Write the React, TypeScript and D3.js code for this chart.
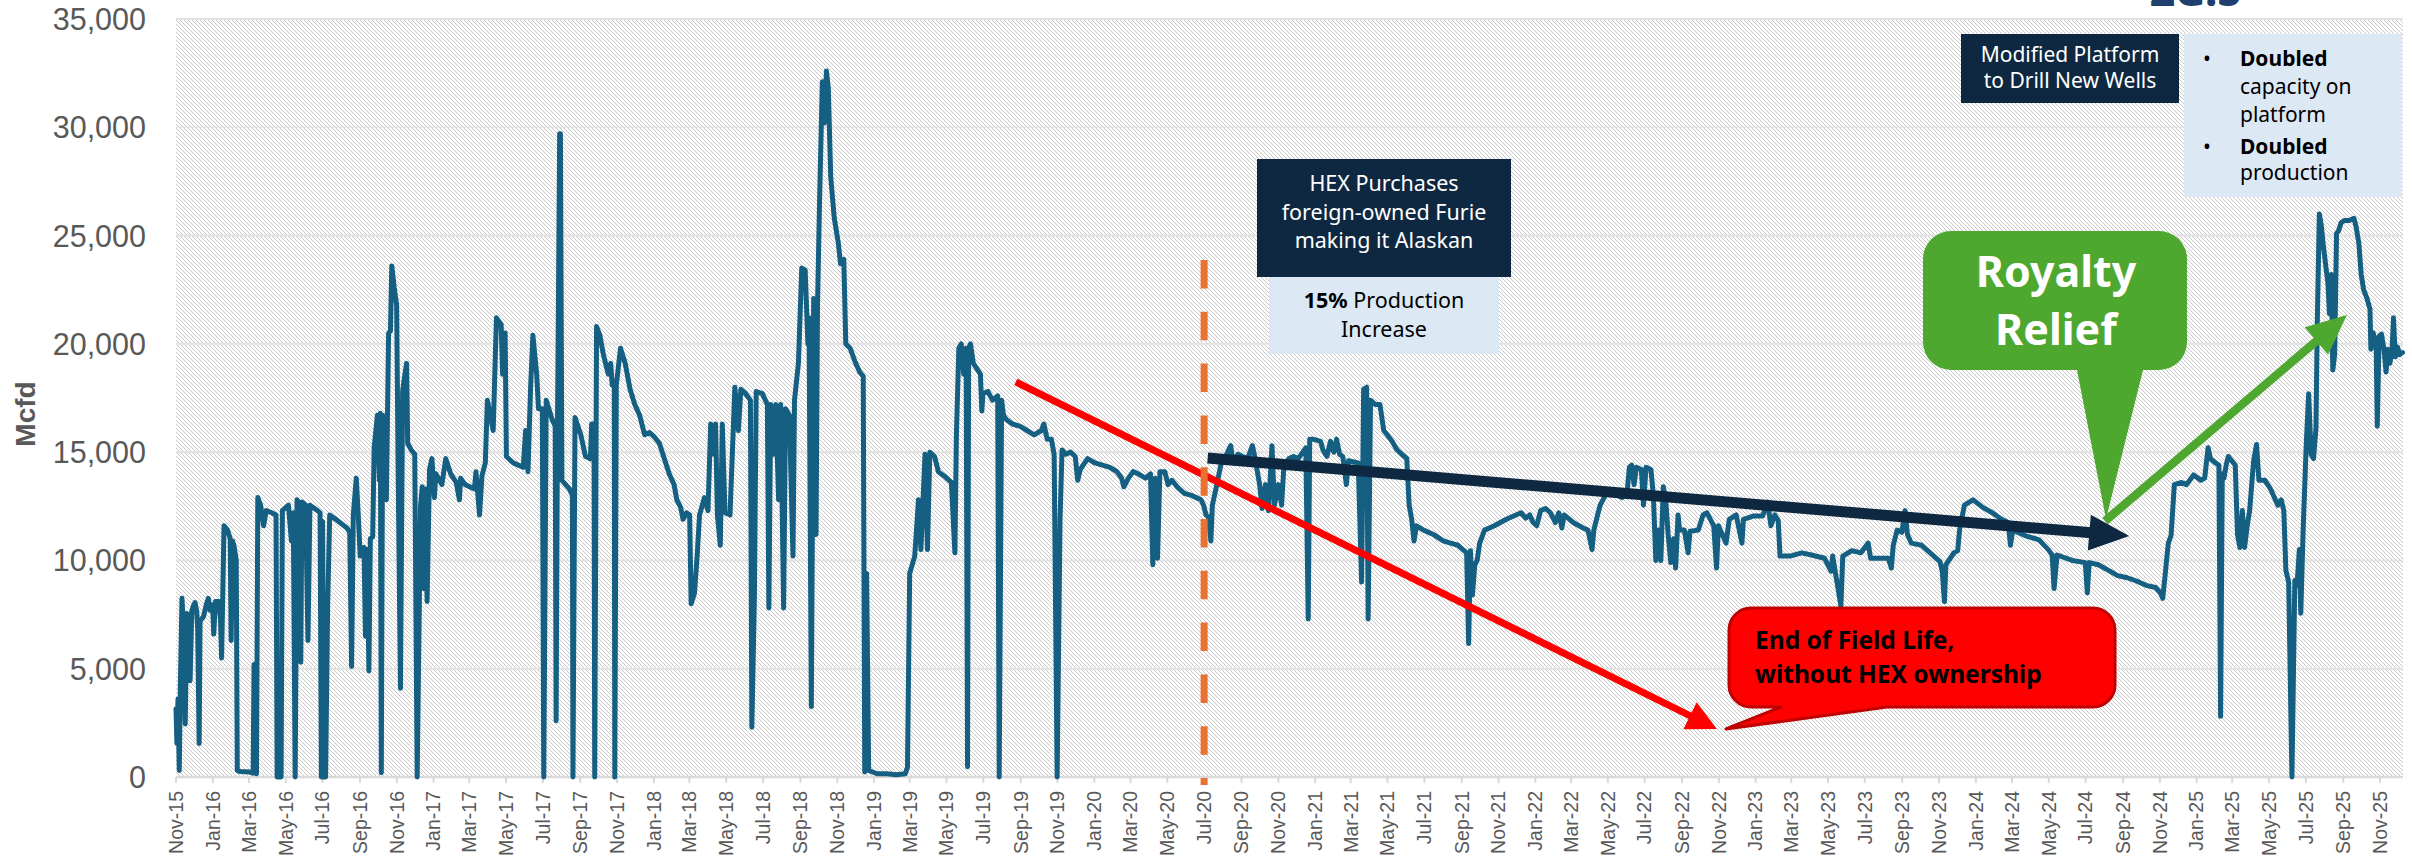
import React from "react";
import * as d3 from "d3";

// Daily gas production, Mcfd. Each pair: [months since 1 Nov 2015, Mcfd]
const prod2015_16: [number, number][] = [
  [0.0, 3150], [0.05, 1550], [0.11, 3600], [0.18, 300], [0.24, 4150], [0.33, 8250], [0.42, 6750], [0.51, 2450],
  [0.6, 7550], [0.69, 7350], [0.78, 4450], [0.87, 7650], [0.96, 7900], [1.05, 8050], [1.14, 7650], [1.19, 6900],
  [1.27, 1550], [1.32, 7200], [1.5, 7400], [1.65, 7950], [1.76, 8250], [1.86, 7700], [1.99, 7950], [2.05, 6600],
  [2.14, 8100], [2.32, 8100], [2.41, 7350], [2.47, 5500], [2.6, 11600], [2.79, 11400], [2.93, 11000], [2.98, 6300],
  [3.06, 10900], [3.16, 10600], [3.27, 10000], [3.33, 300], [3.49, 250], [4.04, 230], [4.22, 180], [4.27, 5200],
  [4.34, 300], [4.4, 150], [4.47, 12900], [4.62, 12550], [4.78, 11600], [4.92, 12300], [5.22, 12200], [5.46, 12100],
  [5.52, 0], [5.74, 0], [5.81, 12300], [6.14, 12550], [6.3, 10900], [6.4, 12200], [6.5, 0], [6.6, 12800],
  [6.75, 12600], [6.8, 5300], [6.86, 12700], [7.06, 12550], [7.19, 6300], [7.3, 12550], [7.72, 12300], [7.86, 12200],
  [7.93, 0], [8.0, 11800], [8.05, 0], [8.16, 0], [8.27, 8000], [8.38, 12100], [8.77, 11850], [9.3, 11500],
  [9.45, 11300], [9.55, 5100], [9.64, 12100], [9.8, 13800], [9.9, 12200], [10.01, 10200], [10.22, 10600], [10.3, 6500],
  [10.4, 10500], [10.49, 4900], [10.57, 11000], [10.7, 11100], [10.78, 15200], [10.96, 16700], [11.07, 13700], [11.12, 16800],
  [11.17, 200], [11.24, 16700], [11.34, 13200], [11.44, 12800], [11.56, 20500], [11.66, 20600], [11.73, 23600], [11.86, 22600],
  [11.99, 21800], [12.08, 13500], [12.2, 4100], [12.32, 17800], [12.41, 18400], [12.54, 19100], [12.6, 15400], [12.8, 15100],
  [12.99, 14900], [13.12, 0], [13.3, 12500], [13.39, 13400], [13.47, 8700], [13.57, 13300], [13.65, 8100], [13.78, 14200],
  [13.91, 14700],
];

const prod2017: [number, number][] = [
  [14.04, 12900], [14.12, 14000], [14.44, 13500], [14.65, 14700], [14.91, 14000], [15.23, 13600], [15.42, 12800], [15.49, 13800],
  [15.76, 13500], [16.28, 13300], [16.36, 14100], [16.55, 12100], [16.68, 13900], [16.86, 14500], [16.97, 17400], [17.29, 16000],
  [17.47, 21200], [17.73, 20900], [17.81, 18600], [17.95, 20500], [18.02, 14800], [18.39, 14500], [18.66, 14400], [18.92, 14300],
  [19.05, 16000], [19.18, 14100], [19.32, 17900], [19.45, 20400], [19.66, 18600], [19.76, 17000], [19.97, 17000], [20.05, 0],
  [20.18, 17400], [20.5, 16500], [20.66, 16200], [20.71, 2600], [20.78, 15800], [20.9, 29700], [20.94, 29700], [21.02, 13700],
  [21.42, 13300], [21.58, 13000], [21.61, 0], [21.72, 16600], [22.03, 15800], [22.29, 14800], [22.56, 14700], [22.63, 16300],
  [22.76, 16300], [22.8, 0], [22.9, 20800], [23.08, 20400], [23.27, 19500], [23.53, 18600], [23.66, 19100], [23.74, 18100],
  [23.85, 18200], [23.88, 0], [23.96, 18100], [24.19, 19800], [24.45, 19100], [24.72, 17900], [24.98, 17200], [25.24, 16700],
  [25.51, 15800], [25.77, 15900],
];

const prod2018: [number, number][] = [
  [26.03, 15700], [26.3, 15400], [26.56, 14700], [26.82, 14000], [27.09, 13500], [27.25, 12800], [27.48, 12450], [27.62, 11900],
  [27.83, 12200], [28.01, 12100], [28.09, 8000], [28.27, 8500], [28.41, 10200], [28.54, 12100], [28.8, 12900], [28.99, 12300],
  [29.14, 16300], [29.33, 14900], [29.41, 16300], [29.51, 12100], [29.67, 10700], [29.78, 16300], [29.93, 12200], [30.2, 12100],
  [30.46, 18000], [30.65, 16000], [30.78, 17900], [31.04, 17700], [31.3, 17400], [31.38, 2300], [31.52, 8250], [31.62, 17800],
  [31.96, 17700], [32.23, 17200], [32.31, 7800], [32.41, 17200], [32.57, 14900], [32.68, 17200], [32.83, 12800], [32.94, 17200],
  [33.1, 7800], [33.2, 17000], [33.41, 16700], [33.6, 10200], [33.68, 17400], [33.89, 19100], [34.07, 23500], [34.26, 23400],
  [34.41, 20000], [34.47, 21200], [34.6, 3250], [34.73, 22100], [34.86, 11200], [34.94, 21700], [35.05, 26500], [35.2, 32100],
  [35.31, 30200], [35.42, 32600], [35.52, 31800], [35.65, 27700], [35.84, 25800], [36.05, 24700], [36.18, 23700], [36.36, 23900],
  [36.47, 20000], [36.71, 19800], [36.97, 19200], [37.23, 18700], [37.42, 18500], [37.5, 230], [37.6, 9400], [37.71, 300],
];

const prod2019: [number, number][] = [
  [38.16, 150], [38.68, 150], [39.21, 100], [39.74, 150], [39.87, 450], [40.0, 9400], [40.27, 10200], [40.47, 12800],
  [40.6, 10500], [40.82, 14900], [40.95, 10500], [41.08, 15000], [41.34, 14800], [41.55, 14100], [41.87, 13900], [42.26, 13600],
  [42.45, 10350], [42.53, 15800], [42.66, 19800], [42.79, 20000], [42.92, 18600], [43.05, 19800], [43.13, 470], [43.19, 19800],
  [43.29, 20000], [43.45, 19100], [43.84, 18600], [43.92, 16900], [43.98, 17700], [44.24, 17800], [44.5, 17400], [44.77, 17600],
  [44.85, 0], [44.98, 17400], [45.08, 16700], [45.24, 16500], [45.56, 16300], [45.95, 16200], [46.35, 16000], [46.74, 15800],
  [47.14, 16000], [47.27, 16300], [47.45, 15600], [47.67, 15600], [47.82, 14900], [47.98, 0], [48.14, 11900], [48.25, 15100],
  [48.46, 14900], [48.72, 15000], [48.98, 14800], [49.11, 13700], [49.25, 14200], [49.64, 14700],
];

const prod2020: [number, number][] = [
  [50.04, 14500], [50.43, 14400], [50.83, 14300], [51.22, 14100], [51.49, 13800], [51.62, 13400], [51.88, 13800], [52.14, 14100],
  [52.41, 14000], [52.8, 13800], [53.07, 14000], [53.2, 9800], [53.33, 13800], [53.46, 10100], [53.59, 14100], [53.86, 14100],
  [54.04, 13500], [54.25, 13700], [54.52, 13400], [54.91, 13100], [55.31, 13000], [55.57, 12900], [55.83, 12800], [55.97, 12550],
  [56.1, 12100], [56.23, 12000], [56.36, 10900], [56.44, 12550], [56.68, 13500], [56.89, 14400], [57.15, 14800], [57.42, 15300],
  [57.55, 14500], [57.81, 14900], [58.07, 14800], [58.34, 14700], [58.6, 15300], [58.73, 14800], [59.0, 13500], [59.13, 12400],
  [59.31, 13500], [59.47, 12300], [59.66, 15300], [59.79, 12550], [60.0, 13500], [60.18, 12550], [60.31, 14400], [60.58, 14700],
  [60.84, 14800], [61.1, 14700], [61.5, 15200], [61.63, 7300], [61.71, 15600], [61.89, 15600],
];

const prod2021: [number, number][] = [
  [62.29, 15500], [62.42, 15100], [62.63, 14800], [62.82, 15500], [63.0, 15000], [63.16, 15600], [63.34, 14900], [63.53, 14800],
  [63.74, 13500], [63.87, 14600], [64.4, 14500], [64.58, 9000], [64.69, 17900], [64.85, 18000], [64.93, 7300], [65.06, 17400],
  [65.32, 17200], [65.58, 17200], [65.79, 16000], [65.98, 15800], [66.24, 15500], [66.51, 15100], [66.77, 14900], [67.03, 14700],
  [67.16, 12550], [67.3, 11900], [67.43, 10900], [67.56, 11600], [67.96, 11400], [68.48, 11200], [69.01, 10900], [69.4, 10800],
  [69.8, 10700], [70.27, 10350], [70.38, 6160], [70.48, 10450], [70.59, 8400], [70.72, 9800], [70.85, 10000], [70.99, 10800],
  [71.25, 11400], [71.78, 11600], [72.43, 11900], [72.96, 12100], [73.23, 12200], [73.49, 11950], [73.7, 12100], [73.88, 11750],
];

const prod2022: [number, number][] = [
  [74.07, 11600], [74.28, 12300], [74.54, 12400], [74.81, 12200], [75.07, 11750], [75.28, 12200], [75.46, 11500], [75.6, 12100],
  [76.12, 11750], [76.65, 11500], [76.91, 11400], [77.13, 10500], [77.23, 11400], [77.44, 12100], [77.58, 12550], [77.92, 13100],
  [78.29, 13100], [78.76, 12900], [79.03, 13100], [79.16, 14300], [79.29, 14400], [79.42, 13500], [79.55, 14300], [79.82, 14200],
  [79.94, 12550], [80.08, 14300], [80.34, 14200], [80.47, 13000], [80.6, 10000], [80.74, 11400], [80.87, 10000], [81.0, 13400],
  [81.13, 12800], [81.26, 11200], [81.4, 9900], [81.55, 11000], [81.66, 9650], [81.79, 12100], [81.87, 11400], [82.13, 11400],
  [82.34, 10350], [82.44, 11350], [82.9, 11400], [83.16, 12100], [83.37, 12200], [83.73, 11600], [83.88, 9650], [83.98, 11600],
  [84.4, 10800], [84.58, 11900], [84.96, 12100], [85.27, 10800], [85.35, 11900], [85.87, 12050],
];

const prod2023: [number, number][] = [
  [86.38, 12050], [86.64, 12700], [86.82, 11600], [87.03, 12100], [87.23, 11850], [87.34, 10200], [87.93, 10200], [88.57, 10350],
  [89.09, 10250], [89.81, 10100], [90.17, 9500], [90.25, 10200], [90.69, 7900], [90.79, 10200], [91.28, 10450], [91.79, 10350],
  [92.18, 10800], [92.31, 10100], [92.95, 10100], [93.26, 10100], [93.42, 9650], [93.52, 10700], [93.73, 11400], [93.98, 11300],
  [94.16, 12300], [94.29, 11200], [94.5, 10800], [95.07, 10700], [95.53, 10350], [96.05, 9950], [96.18, 9500], [96.3, 8100],
  [96.38, 9800], [96.82, 10350], [97.03, 10450], [97.13, 11400], [97.39, 12550], [97.85, 12800],
];

const prod2024: [number, number][] = [
  [98.37, 12450], [98.88, 12200], [99.4, 11900], [99.78, 11750], [99.91, 10700], [100.04, 11400], [100.69, 11150], [101.46, 10950],
  [101.97, 10500], [102.18, 10250], [102.28, 8700], [102.44, 10250], [103.26, 10000], [103.98, 9900], [104.09, 8500], [104.19, 9900],
  [104.68, 9800], [105.2, 9550], [105.71, 9300], [106.23, 9200], [106.74, 9050], [107.26, 8850], [107.77, 8750], [108.03, 8500],
  [108.16, 8250], [108.29, 9300], [108.37, 10000], [108.47, 10800], [108.62, 11150], [108.8, 13500], [109.19, 13600], [109.45, 13500],
  [109.84, 13950],
];

const prod2025: [number, number][] = [
  [110.22, 13700], [110.43, 13800], [110.61, 15200], [110.74, 14700], [111.0, 14500], [111.21, 14400], [111.31, 2800], [111.41, 14000],
  [111.51, 13800], [111.64, 14400], [111.77, 14800], [112.16, 14400], [112.28, 11200], [112.41, 10600], [112.54, 12300], [112.66, 10600],
  [112.8, 11600], [112.93, 12300], [113.06, 13700], [113.15, 14600], [113.31, 15350], [113.44, 13700], [113.77, 13700], [114.08, 13300],
  [114.47, 12550], [114.65, 12800], [114.79, 12300], [114.9, 9540], [115.05, 9000], [115.23, 0], [115.39, 9070], [115.51, 8840],
  [115.64, 10500], [115.72, 7560], [115.85, 11400], [116.02, 15350], [116.15, 17700], [116.28, 14900], [116.41, 14700], [116.54, 16100],
  [116.61, 20950], [116.72, 26000], [116.82, 25500], [116.92, 24650], [117.05, 23700], [117.18, 22800], [117.26, 21400], [117.36, 23200],
  [117.44, 18800], [117.54, 19500], [117.64, 25100], [117.74, 25200], [117.89, 25600], [118.08, 25700], [118.33, 25700], [118.59, 25800],
  [118.71, 25400], [118.86, 24650], [118.99, 23200], [119.12, 22500], [119.3, 22100], [119.46, 21600], [119.51, 19750], [119.63, 20500],
  [119.79, 20000], [119.85, 16200], [119.95, 20350], [120.08, 20450], [120.23, 19650], [120.33, 18700], [120.44, 19750], [120.54, 19100],
  [120.66, 19600], [120.74, 21200], [120.84, 19400], [120.97, 19850], [121.07, 19500], [121.23, 19600],
];

const yTickValues = [0, 5000, 10000, 15000, 20000, 25000, 30000, 35000];
const yAxisTitle = "Mcfd";

// Annotation anchors in data space: [months since Nov 2015, Mcfd]
const redArrowPts: [number, number][] = [[45.74, 18240], [83.9, 2216]];
const navyArrowPts: [number, number][] = [[56.19, 14730], [106.34, 11130]];
const greenArrowPts: [number, number][] = [[105.04, 11820], [118.2, 21330]];
const purchaseMonth = 56; // Jul-20

const START = new Date(2015, 10, 1);
function monthToDate(m: number): Date {
  const whole = Math.floor(m);
  const a = d3.timeMonth.offset(START, whole);
  const b = d3.timeMonth.offset(START, whole + 1);
  return new Date(+a + (m - whole) * (+b - +a));
}

const W = 2412;
const H = 859;
const L = 176;
const R = 2403;
const T = 19;
const B = 777;

const AXIS_FONT = "'Liberation Sans', Arial, sans-serif";
const BOX_FONT = "'Noto Sans', 'Open Sans', sans-serif";

function Arrow({ x1, y1, x2, y2, w, len, half, color }: any) {
  const dx = x2 - x1;
  const dy = y2 - y1;
  const d = Math.hypot(dx, dy);
  const ux = dx / d;
  const uy = dy / d;
  const bx = x2 - ux * len;
  const by = y2 - uy * len;
  const px = -uy;
  const py = ux;
  const pts = [
    [x2, y2],
    [bx + px * half, by + py * half],
    [bx - px * half, by - py * half],
  ];
  return (
    <g>
      <line x1={x1} y1={y1} x2={bx + ux * 2} y2={by + uy * 2} stroke={color} strokeWidth={w} />
      <polygon points={pts.map((p) => p.join(",")).join(" ")} fill={color} />
    </g>
  );
}

export default function App() {
  const x = d3.scaleTime().domain([START, new Date(2025, 11, 9)]).range([L, R]);
  const y = d3.scaleLinear().domain([0, 35000]).range([B, T]);
  const xm = (m: number) => x(monthToDate(m));

  const all = [
    ...prod2015_16, ...prod2017, ...prod2018, ...prod2019, ...prod2020,
    ...prod2021, ...prod2022, ...prod2023, ...prod2024, ...prod2025,
  ];
  const line = d3
    .line<[number, number]>()
    .x((d) => xm(d[0]))
    .y((d) => y(d[1]));

  const xTicks = d3.timeMonth.every(2)!.range(START, new Date(2025, 10, 2));
  const fmtX = d3.timeFormat("%b-%y");
  const fmtY = d3.format(",");

  const ra = redArrowPts.map(([m, v]) => [xm(m), y(v)]);
  const na = navyArrowPts.map(([m, v]) => [xm(m), y(v)]);
  const ga = greenArrowPts.map(([m, v]) => [xm(m), y(v)]);
  const px = xm(purchaseMonth);

  const navy = "#0E2841";
  const lightBlue = "#DDE8F5";

  return (
    <div style={{ position: "absolute", left: 0, top: 0 }}>
      <svg width={W} height={H} style={{ display: "block", background: "#fff" }}>
        <defs>
          <pattern id="hatch" patternUnits="userSpaceOnUse" width={4} height={4}>
            <rect width={4} height={4} fill="#ffffff" />
            <path d="M-1,-1 L5,5 M-1,3 L1,5 M3,-1 L5,1" stroke="#c6c6c6" strokeWidth={1} />
          </pattern>
        </defs>

        {/* logo fragment cut off at the top edge */}
        <text x={2150} y={6} fontFamily={BOX_FONT} fontWeight={800} fontSize={42} fill="#1F3F6E">
          ZG.S
        </text>

        <rect x={L} y={T} width={R - L} height={B - T} fill="url(#hatch)" />

        {yTickValues.map((v) => (
          <g key={v}>
            {v > 0 && <line x1={L} x2={R} y1={y(v)} y2={y(v)} stroke="#e2e2e2" strokeWidth={2} />}
            <text
              x={146}
              y={y(v)}
              dy="0.36em"
              textAnchor="end"
              fontFamily={AXIS_FONT}
              fontSize={30.5}
              fill="#595959"
            >
              {fmtY(v)}
            </text>
          </g>
        ))}

        <line x1={L} x2={R} y1={B} y2={B} stroke="#d9d9d9" strokeWidth={2.5} />
        {xTicks.map((t) => (
          <g key={+t} transform={`translate(${x(t)},${B})`}>
            <line y1={0} y2={6} stroke="#d9d9d9" strokeWidth={2} />
            <text
              transform="rotate(-90)"
              x={-14}
              y={0}
              dy="0.35em"
              textAnchor="end"
              fontFamily={AXIS_FONT}
              fontSize={19.5}
              fill="#595959"
            >
              {fmtX(t)}
            </text>
          </g>
        ))}

        <text
          transform={`translate(35,${(T + B) / 2 + 16}) rotate(-90)`}
          textAnchor="middle"
          fontFamily={AXIS_FONT}
          fontWeight="bold"
          fontSize={28}
          fill="#595959"
        >
          {yAxisTitle}
        </text>

        <path
          d={line(all) || ""}
          fill="none"
          stroke="#156082"
          strokeWidth={5}
          strokeLinejoin="round"
          strokeLinecap="round"
        />

        <Arrow x1={ra[0][0]} y1={ra[0][1]} x2={ra[1][0]} y2={ra[1][1]} w={7} len={30} half={15} color="#FF0000" />
        <Arrow x1={na[0][0]} y1={na[0][1]} x2={na[1][0]} y2={na[1][1]} w={11} len={40} half={18} color={navy} />
        <Arrow x1={ga[0][0]} y1={ga[0][1]} x2={ga[1][0]} y2={ga[1][1]} w={8.5} len={40} half={18} color="#4EA72E" />

        {/* Orange dashed purchase line */}
        <line
          x1={px}
          x2={px}
          y1={260}
          y2={785}
          stroke="#E97132"
          strokeWidth={7}
          strokeDasharray="28.5 23.3"
        />

        {/* HEX purchase box */}
        <rect x={1257} y={159} width={254} height={118} fill={navy} />
        <g fontFamily={BOX_FONT} fontSize={21.5} fill="#fff" textAnchor="middle">
          <text x={1384} y={191}>HEX Purchases</text>
          <text x={1384} y={219.5}>foreign-owned Furie</text>
          <text x={1384} y={248}>making it Alaskan</text>
        </g>
        <rect x={1269} y={277} width={230} height={77} fill={lightBlue} />
        <g fontFamily={BOX_FONT} fontSize={21.5} fill="#000" textAnchor="middle">
          <text x={1384} y={308}>
            <tspan fontWeight="bold">15%</tspan> Production
          </text>
          <text x={1384} y={337}>Increase</text>
        </g>

        {/* Modified platform box */}
        <rect x={1961} y={34} width={218} height={69} fill={navy} />
        <g fontFamily={BOX_FONT} fontSize={21} fill="#fff" textAnchor="middle">
          <text x={2070} y={62}>Modified Platform</text>
          <text x={2070} y={88}>to Drill New Wells</text>
        </g>

        {/* Doubled bullets box */}
        <rect x={2184} y={34} width={218} height={163} fill={lightBlue} />
        <g fontFamily={BOX_FONT} fontSize={21} fill="#000">
          <text x={2207} y={66} textAnchor="middle">•</text>
          <text x={2240} y={66} fontWeight="bold">Doubled</text>
          <text x={2240} y={94}>capacity on</text>
          <text x={2240} y={122}>platform</text>
          <text x={2207} y={154} textAnchor="middle">•</text>
          <text x={2240} y={154} fontWeight="bold">Doubled</text>
          <text x={2240} y={180}>production</text>
        </g>

        {/* Royalty Relief callout */}
        <path
          d="M1951,231 H2159 A28,28 0 0 1 2187,259 V342 A28,28 0 0 1 2159,370 H2143 L2106,519 L2077,370 H1951 A28,28 0 0 1 1923,342 V259 A28,28 0 0 1 1951,231 Z"
          fill="#4EA72E"
        />
        <g fontFamily={BOX_FONT} fontWeight="bold" fontSize={43} fill="#fff" textAnchor="middle">
          <text x={2056} y={287}>Royalty</text>
          <text x={2056} y={345}>Relief</text>
        </g>

        {/* End of field life callout */}
        <path
          d="M1751,608 H2093 A22,22 0 0 1 2115,630 V685 A22,22 0 0 1 2093,707 H1887 L1726,729 L1781,707 H1751 A22,22 0 0 1 1729,685 V630 A22,22 0 0 1 1751,608 Z"
          fill="#FF0000"
          stroke="#C00000"
          strokeWidth={3}
          strokeLinejoin="round"
        />
        <g fontFamily={BOX_FONT} fontWeight="bold" fontSize={24.5} fill="#000">
          <text x={1755} y={649}>End of Field Life,</text>
          <text x={1755} y={683}>without HEX ownership</text>
        </g>
      </svg>
    </div>
  );
}
